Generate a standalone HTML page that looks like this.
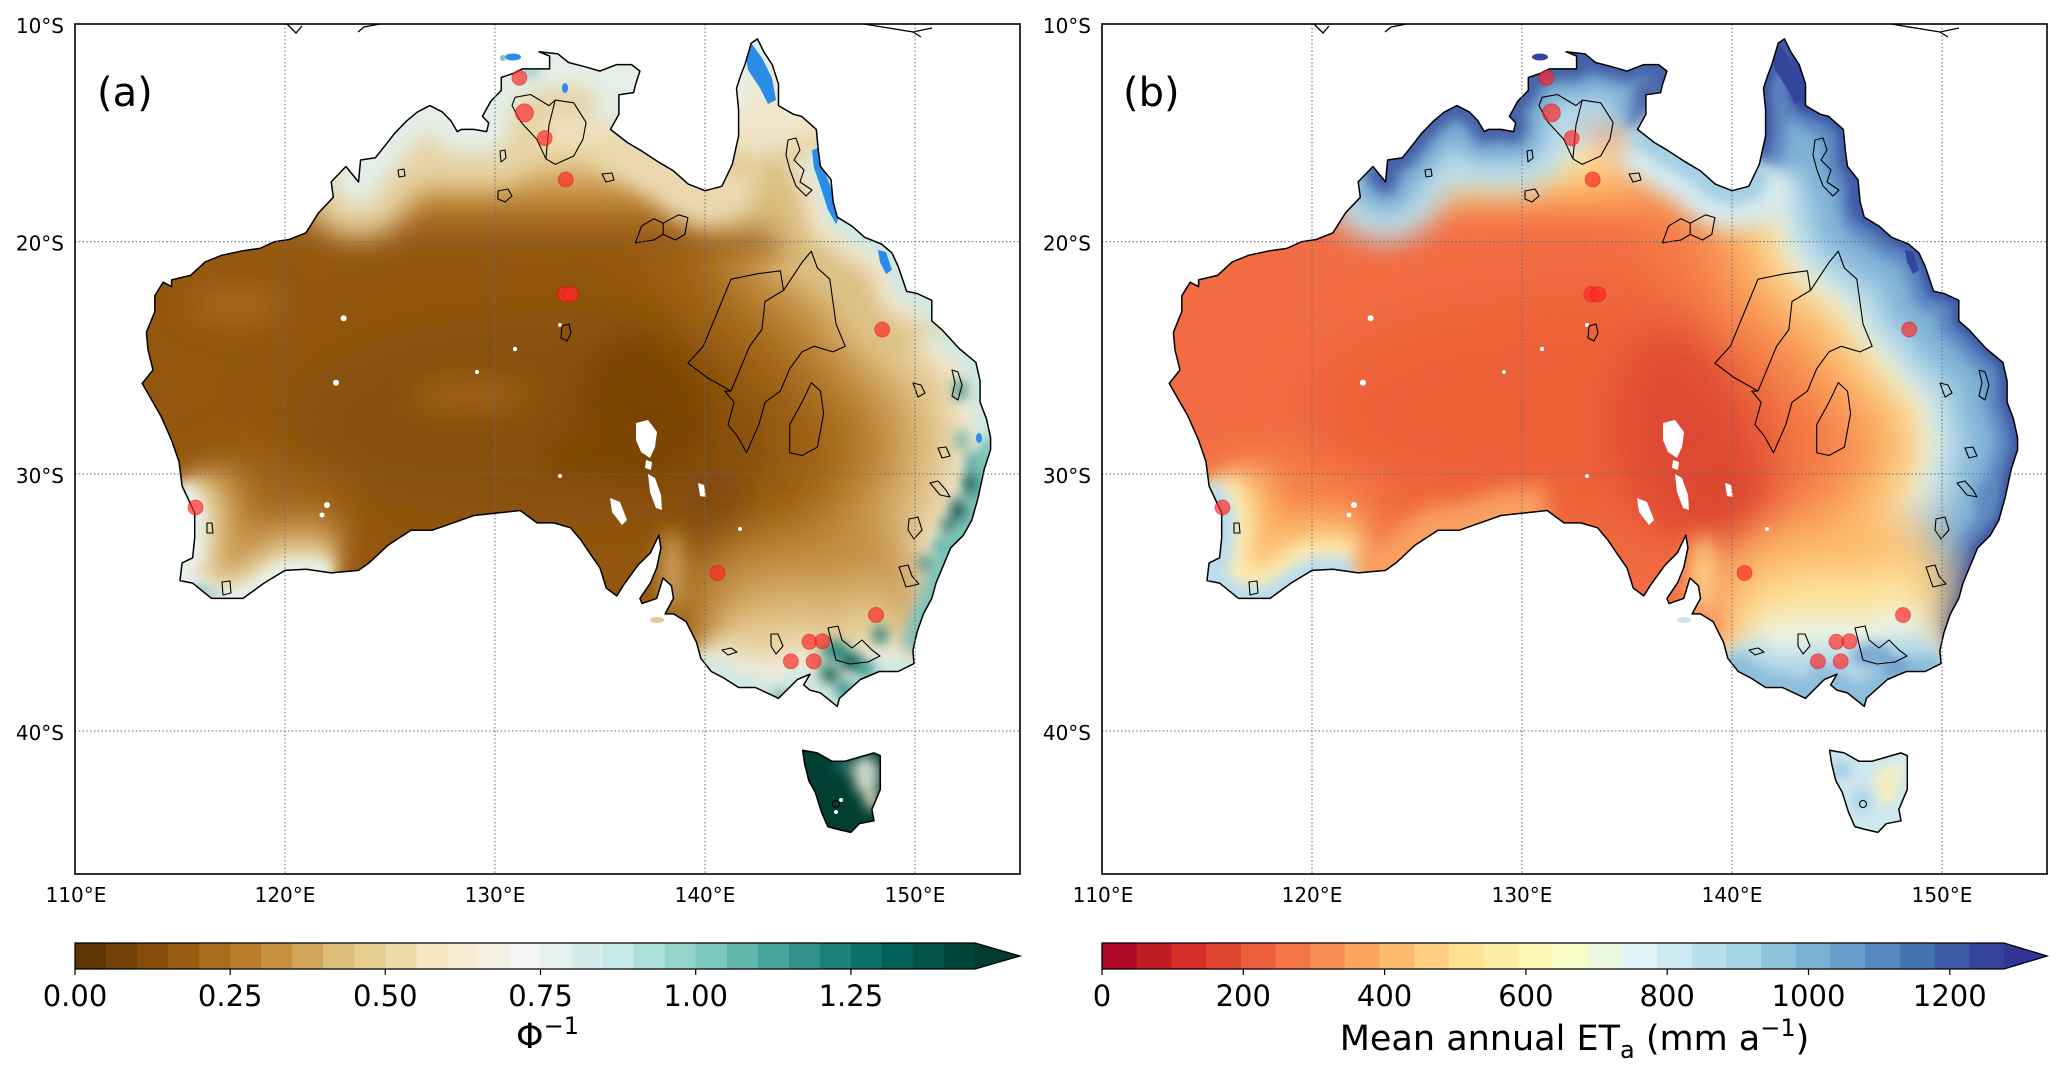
<!DOCTYPE html>
<html><head><meta charset="utf-8"><style>html,body{margin:0;padding:0;background:#fff}svg{display:block}</style></head>
<body>
<svg xmlns="http://www.w3.org/2000/svg" xmlns:xlink="http://www.w3.org/1999/xlink" width="2067" height="1079" viewBox="0 0 2067 1079" font-family="'DejaVu Sans','Liberation Sans',sans-serif">
<defs>
<path id="aus" d="M757.5,38.9 L763.8,51.8 772.2,64.6 778.5,84 778.5,105.6 793.2,114.2 801.6,116.4 816.3,129.4 818.4,151.2 820.5,166.5 831,179.7 833.1,201.7 837.3,217.2 852,226.1 864.6,237.3 881.4,244 891.9,252.9 898.2,266.4 906.6,291.3 917.1,293.5 931.8,300.3 931.8,320.9 942.3,330.1 959.1,348.5 975.9,362.4 980.1,381 980.1,402.2 986.4,418.7 990.6,437.8 990.6,449.7 984.3,469 978,498.2 971.7,520.4 963.3,535.3 950.7,547.8 942.3,567.9 936,583.1 931.8,598.4 923.4,613.9 917.1,632.1 912.9,650.3 914,663.6 898.2,671.5 879.3,671.5 860.4,679.5 839.4,698.3 837.3,706.4 820.5,692.9 810,690.2 803.7,684.9 810,674.2 797.4,679.5 778.5,698.3 755.4,687.5 738.6,687.5 723.9,678.1 711.3,671.5 700.8,658.3 696.6,642.5 686.1,621.6 673.5,613.9 665.1,613.9 673.5,598.4 671.4,585.7 663,578 656.7,598.4 642,603.6 639.9,598.4 650.4,583.1 656.7,567.9 660.9,547.8 658.8,535.3 650.4,552.8 637.8,565.4 623.1,585.7 616.8,595.9 606.3,588.2 600,567.9 589.5,552.8 581.1,540.3 570.6,527.8 553.8,522.9 537,522.9 520.2,510.5 474,515.5 453,522.9 432,530.3 411,530.3 387.9,545.3 369,562.9 358.5,570.4 331.2,572.9 306,569.2 285,570.4 264,583.1 243,598.4 226.2,598.4 211.5,598.4 192.6,583.1 180,580.6 182.1,562.9 192.6,557.8 194.7,537.8 194.7,513 182.1,486 179,461.8 171.6,440.2 161.1,416.4 142.2,383.4 153,370 148,350 146.4,332.3 154.8,311.7 154.8,295.8 163.2,282.2 171.6,286.7 171.6,279.9 190.5,275.4 205.2,261.9 222,255.2 243,250.7 259.8,248.4 274.5,241.7 289.2,239.5 306,232.8 318.6,212.8 333.3,197.3 331.2,181.9 345.9,166.5 358.5,181.9 360.6,160 375.3,157.8 385.8,144.7 394.2,133.8 406.8,120.8 417.3,112.1 429.9,105.6 442.5,112.1 450.9,120.8 457.2,131.6 461.4,129.4 474,129.4 486.6,131.6 488.7,122.9 482.4,116.4 490.8,101.2 501.3,90.4 501.3,77.5 513.9,73.2 522.3,68.9 537,68.9 549.6,68.9 549.6,56.1 539.1,51.8 558,53.9 568.5,62.5 585.3,66.8 600,71.1 616.8,64.6 631.5,64.6 639.9,71.1 635.7,84 633.6,92.6 618.9,94.8 618.9,114.2 610.5,129.4 627.3,142.5 642,151.2 658.8,162.2 673.5,170.9 688.2,184.1 705,190.7 721.8,186.3 732.3,164.4 738.6,135.9 738.6,109.9 736.5,88.3 740.7,75.4 744.9,64.6 751.2,43.2 Z"/>
<path id="tas" d="M802.6,750.2 L817.3,752.9 832,761.3 844.6,761.3 859.3,757.1 874,752.9 880.3,755.7 880.3,775.3 880.3,789.4 871.9,809.3 874,820.8 859.3,823.7 850.9,832.4 838.3,829.5 827.8,826.6 821.5,812.2 815.2,792.2 808.9,780.9 804.7,764.1 Z"/>
<path id="pE" d="M732.3,164.4 L738.6,135.9 738.6,109.9 736.5,88.3 740.7,75.4 744.9,64.6 751.2,43.2 757.5,38.9 763.8,51.8 772.2,64.6 778.5,84 778.5,105.6 793.2,114.2 801.6,116.4 816.3,129.4 818.4,151.2 820.5,166.5 831,179.7 833.1,201.7 837.3,217.2 852,226.1 864.6,237.3 881.4,244 891.9,252.9 898.2,266.4 906.6,291.3 917.1,293.5 931.8,300.3 931.8,320.9 942.3,330.1 959.1,348.5 975.9,362.4 980.1,381 980.1,402.2 986.4,418.7 990.6,437.8 990.6,449.7 984.3,469 978,498.2 971.7,520.4 963.3,535.3 950.7,547.8 942.3,567.9 936,583.1 931.8,598.4 923.4,613.9 917.1,632.1 912.9,650.3 914,663.6"/>
<path id="pE2" d="M818.4,151.2 L820.5,166.5 831,179.7 833.1,201.7 837.3,217.2 852,226.1 864.6,237.3 881.4,244 891.9,252.9 898.2,266.4 906.6,291.3 917.1,293.5 931.8,300.3 931.8,320.9"/>
<path id="pT" d="M990.6,437.8 L990.6,449.7 984.3,469 978,498.2 971.7,520.4 963.3,535.3 950.7,547.8 942.3,567.9 936,583.1 931.8,598.4 923.4,613.9 917.1,632.1 912.9,650.3"/>
<path id="pV" d="M914,663.6 L898.2,671.5 879.3,671.5 860.4,679.5 839.4,698.3 837.3,706.4 820.5,692.9 810,690.2 797.4,679.5 778.5,698.3 755.4,687.5 738.6,687.5 723.9,678.1 711.3,671.5 700.8,658.3"/>
<path id="pSW" d="M182.1,486 L194.7,513 194.7,537.8 192.6,557.8 182.1,562.9 180,580.6 192.6,583.1 211.5,598.4 226.2,598.4 243,598.4 264,583.1 285,570.4 306,569.2 331.2,572.9"/>
<path id="pS" d="M520.2,510.5 L474,515.5 453,522.9 432,530.3 411,530.3 387.9,545.3 369,562.9 358.5,570.4 331.2,572.9"/>
<path id="pN" d="M345.9,166.5 L358.5,181.9 360.6,160 375.3,157.8 385.8,144.7 394.2,133.8 406.8,120.8 417.3,112.1 429.9,105.6 442.5,112.1 450.9,120.8 457.2,131.6 461.4,129.4 474,129.4 486.6,131.6 488.7,122.9 482.4,116.4 490.8,101.2 501.3,90.4 501.3,77.5 513.9,73.2 522.3,68.9 537,68.9 549.6,68.9 549.6,56.1 539.1,51.8 558,53.9 568.5,62.5 585.3,66.8 600,71.1 616.8,64.6 631.5,64.6 639.9,71.1 635.7,84 633.6,92.6 618.9,94.8 618.9,114.2 610.5,129.4"/>
<path id="pG" d="M610.5,129.4 L627.3,142.5 642,151.2 658.8,162.2 673.5,170.9 688.2,184.1 705,190.7 721.8,186.3 732.3,164.4"/>
<clipPath id="land"><use href="#aus"/><use href="#tas"/></clipPath>
<filter id="b4" filterUnits="userSpaceOnUse" x="-300" y="-300" width="1700" height="1500"><feGaussianBlur stdDeviation="4"/></filter>
<filter id="b6" filterUnits="userSpaceOnUse" x="-300" y="-300" width="1700" height="1500"><feGaussianBlur stdDeviation="6"/></filter>
<filter id="b10" filterUnits="userSpaceOnUse" x="-300" y="-300" width="1700" height="1500"><feGaussianBlur stdDeviation="10"/></filter>
<filter id="b14" filterUnits="userSpaceOnUse" x="-300" y="-300" width="1700" height="1500"><feGaussianBlur stdDeviation="14"/></filter>
<filter id="b18" filterUnits="userSpaceOnUse" x="-300" y="-300" width="1700" height="1500"><feGaussianBlur stdDeviation="18"/></filter>
<filter id="b24" filterUnits="userSpaceOnUse" x="-300" y="-300" width="1700" height="1500"><feGaussianBlur stdDeviation="24"/></filter>
<filter id="b32" filterUnits="userSpaceOnUse" x="-300" y="-300" width="1700" height="1500"><feGaussianBlur stdDeviation="32"/></filter>
<linearGradient id="gNa" gradientUnits="userSpaceOnUse" x1="0" y1="24" x2="0" y2="268">
<stop offset="0" stop-color="#d6ede7"/><stop offset="0.27" stop-color="#e6f1ec"/><stop offset="0.385" stop-color="#f1ead2"/><stop offset="0.496" stop-color="#ecdcb0"/><stop offset="0.566" stop-color="#e2c88e"/><stop offset="0.639" stop-color="#d4a862"/><stop offset="0.713" stop-color="#c08a3e"/><stop offset="0.803" stop-color="#a86c24"/><stop offset="0.893" stop-color="#9a5c18" stop-opacity="0.8"/><stop offset="1" stop-color="#93570f" stop-opacity="0"/>
</linearGradient>
<linearGradient id="gNb" gradientUnits="userSpaceOnUse" x1="0" y1="24" x2="0" y2="260">
<stop offset="0" stop-color="#3a55a2"/><stop offset="0.15" stop-color="#4464ab"/><stop offset="0.25" stop-color="#5a86bf"/><stop offset="0.322" stop-color="#78aad2"/><stop offset="0.415" stop-color="#b1d8e8"/><stop offset="0.487" stop-color="#e2f2f2"/><stop offset="0.559" stop-color="#faf3b8"/><stop offset="0.631" stop-color="#fed88c"/><stop offset="0.703" stop-color="#fdb56a"/><stop offset="0.771" stop-color="#f99656"/><stop offset="0.869" stop-color="#f57a48" stop-opacity="0.6"/><stop offset="1" stop-color="#f26c43" stop-opacity="0"/>
</linearGradient>

<g id="overlay">
 <g fill="#fff">
  <path d="M636,423 L648,420 657,432 655,447 650,458 641,452 636,440 Z"/>
  <path d="M646,460 L652,462 651,470 645,468 Z"/>
  <path d="M648,474 L655,478 661,495 662,510 656,508 650,492 Z"/>
  <path d="M610,498 L620,502 627,520 622,525 612,512 Z"/>
  <path d="M698,483 L704,485 706,497 700,496 Z"/>
  <circle cx="343.6" cy="318.3" r="3"/><circle cx="336" cy="382.7" r="3"/><circle cx="515" cy="349" r="2.2"/>
  <circle cx="327" cy="505" r="3"/><circle cx="322" cy="515" r="2.5"/><circle cx="740" cy="529" r="2"/>
  <circle cx="560" cy="325" r="2"/><circle cx="477" cy="372" r="2"/><circle cx="560" cy="476" r="2"/>
 </g>
 <g fill="none" stroke="#000" stroke-width="1.1" stroke-linejoin="round">
  <path d="M731,279.2 L758.8,273.6 780.4,270.8 783.5,290.4 765,301.5 761.9,329.5 749.6,346.3 740.3,368.7 731,391.1 706.4,377.1 687.9,363.1 703.3,346.3 712.5,323.9 721.8,301.5 Z"/>
  <path d="M783.5,290.4 L802,262.4 811.3,251.2 817.4,268 829.8,279.2 832.9,301.5 836,323.9 845.2,346.3 832.9,351.9 814.3,346.3 802,351.9 789.7,368.7 780.4,391.1 765,402.3 758.8,424.7 746.5,452.7 737.2,435.9 728,424.7 734.1,402.3 724.9,391.1 731,391.1"/>
  <path d="M811.3,382.7 L820.5,391.1 823.6,413.5 817.4,447.1 802,455.5 789.7,452.7 789.7,424.7 802,402.3 Z"/>
  <path d="M515.1,97.3 L530.5,94.5 549,105.6 555.2,100.1 573.7,102.8 586.1,122.4 583,139.2 573.7,156 555.2,164.4 545.9,158.8 536.7,139.2 521.2,122.4 512,105.6 Z M555.2,100.1 L549,125 545.9,158.8"/>
  <path d="M635.4,242.8 L641.6,226 653.9,218.7 663.2,223.2 678.6,214.8 687.9,217.6 684.8,234.4 675.5,240 663.2,234.4 653.9,240 Z M663.2,223.2 L663.2,234.4"/>
  <path d="M562,326 L569,324 571,333 567,341 561,338 Z"/>
  <path d="M498,191 L508,189 512,196 505,202 498,199 Z"/>
  <path d="M500,151 L505,150 506,158 501,162 Z"/>
  <path d="M602,174 L612,173 614,180 606,182 Z"/>
  <path d="M398,170 L404,169 405,176 399,177 Z"/>
  <path d="M788,140 L796,138 800,150 794,160 804,170 800,182 812,190 806,196 796,186 790,170 786,155 Z"/>
  <path d="M913,383 L921,385 925,393 918,397 Z"/>
  <path d="M952,370 L958,372 962,385 958,400 952,396 955,383 Z"/>
  <path d="M938,448 L946,447 950,456 942,458 Z"/>
  <path d="M930,483 L938,481 946,490 950,497 940,495 Z"/>
  <path d="M909,519 L918,517 922,530 914,539 908,530 Z"/>
  <path d="M899,567 L908,565 912,576 919,584 906,587 Z"/>
  <path d="M828,628 L838,626 842,640 852,648 862,640 872,650 880,656 868,662 850,664 836,660 Z"/>
  <path d="M771,634 L778,634 783,646 776,654 771,646 Z"/>
  <path d="M722,650 L731,648 737,652 728,655 Z"/>
  <path d="M207,523 L212,523 213,533 207,533 Z"/>
  <path d="M222,582 L230,581 231,593 223,595 Z"/>
  <circle cx="836" cy="804" r="3.5"/>
 </g>
 <use href="#aus" fill="none" stroke="#000" stroke-width="1.5" stroke-linejoin="round"/>
 <use href="#tas" fill="none" stroke="#000" stroke-width="1.5" stroke-linejoin="round"/>
 <g fill="none" stroke="#000" stroke-width="1.3">
  <polyline points="287,24 296,33 302,26"/>
  <polyline points="358,32 364,27 380,24"/>
  <polyline points="864,24 913,32 932,28"/>
  <polyline points="913,32 921,37"/>
 </g>
 <g stroke="#666d78" stroke-width="1.1" stroke-dasharray="1.4,2.4" fill="none">
  <line x1="75" y1="241.7" x2="1020" y2="241.7"/>
  <line x1="75" y1="473.9" x2="1020" y2="473.9"/>
  <line x1="75" y1="730.9" x2="1020" y2="730.9"/>
  <line x1="285" y1="24" x2="285" y2="874"/>
  <line x1="495" y1="24" x2="495" y2="874"/>
  <line x1="705" y1="24" x2="705" y2="874"/>
  <line x1="915" y1="24" x2="915" y2="874"/>
 </g>
 <rect x="75" y="24" width="945" height="850" fill="none" stroke="#000" stroke-width="1.6"/>
 <g font-size="20" fill="#000" text-anchor="end">
  <text x="64" y="33">10°S</text>
  <text x="64" y="250.7">20°S</text>
  <text x="64" y="482.9">30°S</text>
  <text x="64" y="739.9">40°S</text>
 </g>
 <g font-size="20" fill="#000" text-anchor="middle">
  <text x="76" y="902">110°E</text>
  <text x="285" y="902">120°E</text>
  <text x="495" y="902">130°E</text>
  <text x="705" y="902">140°E</text>
  <text x="915" y="902">150°E</text>
 </g>
 <g fill="rgb(255,40,40)" fill-opacity="0.68" stroke="rgb(210,0,0)" stroke-opacity="0.4" stroke-width="1">
  <circle cx="519.4" cy="77.7" r="7.5"/>
  <circle cx="524.4" cy="112.9" r="9"/>
  <circle cx="544.7" cy="138.1" r="7.5"/>
  <circle cx="565.7" cy="179.5" r="7.5"/>
  <circle cx="564.4" cy="294.3" r="7.5"/>
  <circle cx="571.2" cy="294.3" r="7.5"/>
  <circle cx="882.2" cy="329.5" r="7.5"/>
  <circle cx="195.5" cy="507.5" r="7.5"/>
  <circle cx="717.5" cy="573" r="7.5"/>
  <circle cx="876" cy="615" r="7.5"/>
  <circle cx="809.4" cy="641.8" r="7.5"/>
  <circle cx="822.4" cy="641.3" r="7.5"/>
  <circle cx="790.9" cy="661.4" r="7.5"/>
  <circle cx="813.7" cy="661.4" r="7.5"/>
 </g>
</g>
</defs>

<!-- ================= PANEL A ================= -->
<g>
 <g clip-path="url(#land)">
  <rect x="75" y="24" width="945" height="850" fill="#93570f"/>
  <ellipse cx="560" cy="420" rx="270" ry="105" fill="#87500c" filter="url(#b32)"/>
  <ellipse cx="645" cy="405" rx="65" ry="75" fill="#7a4404" filter="url(#b18)"/>
  <ellipse cx="600" cy="455" rx="60" ry="22" fill="#7d4605" filter="url(#b14)"/>
  <ellipse cx="715" cy="505" rx="35" ry="40" fill="#80490a" filter="url(#b18)"/>
  <ellipse cx="235" cy="305" rx="45" ry="18" fill="#a8691f" filter="url(#b14)"/>
  <ellipse cx="470" cy="395" rx="60" ry="18" fill="#9d6015" filter="url(#b14)"/>
  <g fill="none" stroke-linejoin="round" stroke-linecap="butt">
   <use href="#pE" stroke="#a26619" stroke-width="360" filter="url(#b32)"/>
   <use href="#pE" stroke="#c28b3f" stroke-width="250" filter="url(#b24)"/>
   <use href="#pE" stroke="#d9b574" stroke-width="170" filter="url(#b18)"/>
   <use href="#pE" stroke="#e6cf9c" stroke-width="110" filter="url(#b14)"/>
   <use href="#pE" stroke="#f0e8d2" stroke-width="60" filter="url(#b10)"/>
   <use href="#pE" stroke="#cfe9e2" stroke-width="24" filter="url(#b6)"/>
   <use href="#pV" stroke="#c18b3f" stroke-width="300" filter="url(#b24)"/>
   <use href="#pV" stroke="#d9b574" stroke-width="200" filter="url(#b18)"/>
   <use href="#pV" stroke="#e8d3a2" stroke-width="120" filter="url(#b14)"/>
   <use href="#pV" stroke="#eeeadb" stroke-width="60" filter="url(#b10)"/>
   <use href="#pV" stroke="#cfe9e2" stroke-width="24" filter="url(#b6)"/>
   <use href="#pSW" stroke="#a86c22" stroke-width="170" filter="url(#b24)"/>
   <use href="#pSW" stroke="#cc9d55" stroke-width="100" filter="url(#b14)"/>
   <use href="#pSW" stroke="#e6d4a6" stroke-width="52" filter="url(#b10)"/>
   <use href="#pSW" stroke="#e8f0ea" stroke-width="22" filter="url(#b6)"/>
   <use href="#pT" stroke="#7cc4b9" stroke-width="22" filter="url(#b6)"/>
  </g>
  <ellipse cx="672" cy="570" rx="10" ry="40" fill="#d4ac68" filter="url(#b10)"/>
  <rect x="75" y="24" width="945" height="244" fill="url(#gNa)"/>
  <ellipse cx="770" cy="125" rx="28" ry="60" fill="#efe6cc" filter="url(#b14)"/>
  <ellipse cx="745" cy="205" rx="60" ry="25" fill="#dcbf80" filter="url(#b18)"/>
  <g fill="none" stroke-linejoin="round" stroke-linecap="butt">
   <use href="#pE2" stroke="#dcbf82" stroke-width="130" filter="url(#b14)"/>
   <use href="#pE2" stroke="#efe6cc" stroke-width="60" filter="url(#b10)"/>
   <use href="#pE2" stroke="#cfe9e2" stroke-width="24" filter="url(#b6)"/>
   <use href="#pN" stroke="#e6d3a4" stroke-width="110" filter="url(#b14)"/>
   <use href="#pN" stroke="#e4efe8" stroke-width="44" filter="url(#b10)"/>
   <use href="#pG" stroke="#ead9b0" stroke-width="70" filter="url(#b10)"/>
  </g>
  <g filter="url(#b6)">
   <ellipse cx="835" cy="650" rx="14" ry="10" fill="#2d8c83"/>
   <ellipse cx="852" cy="662" rx="12" ry="9" fill="#0e5f55"/>
   <ellipse cx="866" cy="670" rx="10" ry="8" fill="#3a9a90"/>
   <ellipse cx="825" cy="668" rx="8" ry="6" fill="#5fb3a8"/>
   <ellipse cx="830" cy="675" rx="10" ry="8" fill="#0e5f55"/>
   <ellipse cx="845" cy="690" rx="10" ry="8" fill="#2a8a80"/>
   <ellipse cx="880" cy="635" rx="7" ry="9" fill="#1f7b71"/>
   <ellipse cx="780" cy="697" rx="7" ry="4" fill="#1f7b71"/>
   <ellipse cx="970" cy="484" rx="7" ry="12" fill="#0b5c52"/>
   <ellipse cx="958" cy="510" rx="8" ry="12" fill="#0b5c52"/>
   <ellipse cx="948" cy="526" rx="7" ry="8" fill="#1a7268"/>
   <ellipse cx="972" cy="462" rx="6" ry="10" fill="#3d9c92"/>
   <ellipse cx="962" cy="440" rx="6" ry="10" fill="#5fb3a8"/>
   <ellipse cx="960" cy="390" rx="6" ry="10" fill="#208278"/>
   <ellipse cx="925" cy="563" rx="6" ry="8" fill="#2a8a80"/>
   <ellipse cx="940" cy="545" rx="6" ry="8" fill="#4aa79c"/>
   <ellipse cx="200" cy="592" rx="8" ry="5" fill="#4aa79c"/>
   <ellipse cx="215" cy="596" rx="6" ry="3" fill="#4aa79c"/>
   <ellipse cx="530" cy="70" rx="10" ry="6" fill="#7cc6bb"/>
  </g>
  <rect x="790" y="738" width="100" height="105" fill="#023f33"/>
  <g filter="url(#b6)">
   <ellipse cx="866" cy="775" rx="13" ry="20" fill="#c9d6c6"/>
   <ellipse cx="872" cy="800" rx="7" ry="10" fill="#e6dcc0"/>
   <ellipse cx="845" cy="766" rx="10" ry="6" fill="#1d7a6e"/>
  </g>
  <circle cx="841" cy="800" r="2" fill="#fff"/><circle cx="836" cy="812" r="2" fill="#fff"/>
  <g fill="#2a8ce6">
   <polygon points="744,48 752,44 762,58 772,78 776,100 768,104 760,88 748,70"/>
   <polygon points="812,150 818,148 824,170 832,190 840,215 836,224 828,210 820,185 814,168"/>
   <polygon points="878,250 886,252 892,270 886,274 880,262"/>
   <ellipse cx="979" cy="438" rx="3" ry="5"/>
   <ellipse cx="565" cy="88" rx="3" ry="5"/>
  </g>
 </g>
 <ellipse cx="513" cy="57" rx="8" ry="3.5" fill="#2a8ce6"/>
 <ellipse cx="503" cy="58" rx="3" ry="3" fill="#7cc6bb"/>
 <ellipse cx="657" cy="620" rx="7" ry="3" fill="#e2c98e"/>
 <use href="#overlay"/>
 <text x="97" y="106" font-size="40">(a)</text>
</g>

<!-- ================= PANEL B ================= -->
<g transform="translate(1027,0)">
 <g clip-path="url(#land)">
  <rect x="75" y="24" width="945" height="850" fill="#f26c43"/>
  <ellipse cx="560" cy="410" rx="280" ry="110" fill="#ec6039" filter="url(#b32)"/>
  <ellipse cx="660" cy="430" rx="70" ry="110" fill="#de4830" filter="url(#b24)"/>
  <ellipse cx="710" cy="505" rx="40" ry="45" fill="#dc452f" filter="url(#b18)"/>
  <rect x="75" y="24" width="945" height="240" fill="url(#gNb)"/>
  <g fill="none" stroke-linejoin="round" stroke-linecap="butt">
   <use href="#pE" stroke="#f7894e" stroke-width="380" filter="url(#b32)"/>
   <use href="#pE" stroke="#fcc272" stroke-width="270" filter="url(#b24)"/>
   <use href="#pE" stroke="#f4f2cc" stroke-width="190" filter="url(#b18)"/>
   <use href="#pE" stroke="#cde8f1" stroke-width="155" filter="url(#b14)"/>
   <use href="#pE" stroke="#9cc8e0" stroke-width="125" filter="url(#b14)"/>
   <use href="#pE" stroke="#7eb0d6" stroke-width="85" filter="url(#b10)"/>
   <use href="#pE" stroke="#5a84bf" stroke-width="42" filter="url(#b6)"/>
   <use href="#pE" stroke="#3f5aa5" stroke-width="14" filter="url(#b4)"/>
   <use href="#pV" stroke="#fcb96a" stroke-width="320" filter="url(#b24)"/>
   <use href="#pV" stroke="#fde39c" stroke-width="220" filter="url(#b18)"/>
   <use href="#pV" stroke="#e8f3e6" stroke-width="130" filter="url(#b14)"/>
   <use href="#pV" stroke="#b3d8e8" stroke-width="70" filter="url(#b10)"/>
   <use href="#pV" stroke="#8dbddb" stroke-width="30" filter="url(#b6)"/>
   <use href="#pSW" stroke="#f7894e" stroke-width="180" filter="url(#b24)"/>
   <use href="#pSW" stroke="#fcbd70" stroke-width="110" filter="url(#b14)"/>
   <use href="#pSW" stroke="#fbeeb6" stroke-width="60" filter="url(#b10)"/>
   <use href="#pSW" stroke="#bcdded" stroke-width="26" filter="url(#b6)"/>
   <use href="#pS" stroke="#f9a060" stroke-width="50" filter="url(#b10)"/>
   <use href="#pN" stroke="#b7dcea" stroke-width="120" filter="url(#b14)"/>
   <use href="#pN" stroke="#7aaad3" stroke-width="60" filter="url(#b10)"/>
   <use href="#pN" stroke="#4462a8" stroke-width="24" filter="url(#b6)"/>
   <use href="#pG" stroke="#d5ebf0" stroke-width="80" filter="url(#b10)"/>
   <use href="#pG" stroke="#a5cfe4" stroke-width="30" filter="url(#b6)"/>
  </g>
  <ellipse cx="676" cy="575" rx="12" ry="40" fill="#fcd58a" filter="url(#b10)"/>
  <g filter="url(#b6)">
   <ellipse cx="845" cy="655" rx="22" ry="12" fill="#7aa9d2"/>
   <ellipse cx="870" cy="668" rx="12" ry="8" fill="#6b9cca"/>
   <ellipse cx="960" cy="500" rx="10" ry="20" fill="#5d88c0"/>
   <ellipse cx="775" cy="75" rx="14" ry="35" fill="#35449a"/>
   <ellipse cx="830" cy="190" rx="8" ry="30" fill="#3f5aa5"/>
  </g>
  <rect x="790" y="738" width="100" height="105" fill="#cfe7ef"/>
  <g filter="url(#b6)">
   <ellipse cx="860" cy="785" rx="12" ry="20" fill="#f6efbd"/>
   <ellipse cx="835" cy="800" rx="10" ry="12" fill="#a9d3e6"/>
   <ellipse cx="815" cy="770" rx="8" ry="8" fill="#8fc2dd"/>
   <ellipse cx="872" cy="768" rx="8" ry="8" fill="#eaf2d8"/>
  </g>
  <g fill="#34469c">
   <polygon points="744,48 752,44 762,58 772,78 776,100 768,104 760,88 748,70"/>
   <polygon points="878,250 886,252 892,270 886,274 880,262"/>
  </g>
 </g>
 <ellipse cx="513" cy="57" rx="8" ry="3.5" fill="#34449b"/>
 <ellipse cx="657" cy="620" rx="7" ry="3" fill="#c9e4ef"/>
 <use href="#overlay"/>
 <text x="96" y="106" font-size="40">(b)</text>
</g>

<!-- ================= COLORBAR A ================= -->
<g>
 <g>
  <rect x="75" y="943" width="31.5" height="26" fill="#5e3606"/>
  <rect x="106.03" y="943" width="31.5" height="26" fill="#714108"/>
  <rect x="137.07" y="943" width="31.5" height="26" fill="#844c09"/>
  <rect x="168.1" y="943" width="31.5" height="26" fill="#975b11"/>
  <rect x="199.14" y="943" width="31.5" height="26" fill="#a86c1d"/>
  <rect x="230.17" y="943" width="31.5" height="26" fill="#ba7c29"/>
  <rect x="261.2" y="943" width="31.5" height="26" fill="#c79140"/>
  <rect x="292.24" y="943" width="31.5" height="26" fill="#d2a75c"/>
  <rect x="323.28" y="943" width="31.5" height="26" fill="#ddbe78"/>
  <rect x="354.31" y="943" width="31.5" height="26" fill="#e5cd90"/>
  <rect x="385.34" y="943" width="31.5" height="26" fill="#edd9a8"/>
  <rect x="416.38" y="943" width="31.5" height="26" fill="#f5e7c1"/>
  <rect x="447.41" y="943" width="31.5" height="26" fill="#f6ecd2"/>
  <rect x="478.45" y="943" width="31.5" height="26" fill="#f5f0e4"/>
  <rect x="509.48" y="943" width="31.5" height="26" fill="#f5f5f5"/>
  <rect x="540.52" y="943" width="31.5" height="26" fill="#e5f1ef"/>
  <rect x="571.55" y="943" width="31.5" height="26" fill="#d5edea"/>
  <rect x="602.59" y="943" width="31.5" height="26" fill="#c5e9e4"/>
  <rect x="633.62" y="943" width="31.5" height="26" fill="#acdfd7"/>
  <rect x="664.66" y="943" width="31.5" height="26" fill="#94d5cb"/>
  <rect x="695.69" y="943" width="31.5" height="26" fill="#7bc9be"/>
  <rect x="726.72" y="943" width="31.5" height="26" fill="#61b7ac"/>
  <rect x="757.76" y="943" width="31.5" height="26" fill="#47a49b"/>
  <rect x="788.79" y="943" width="31.5" height="26" fill="#30928a"/>
  <rect x="819.83" y="943" width="31.5" height="26" fill="#1e8179"/>
  <rect x="850.86" y="943" width="31.5" height="26" fill="#0c7068"/>
  <rect x="881.9" y="943" width="31.5" height="26" fill="#016058"/>
  <rect x="912.93" y="943" width="31.5" height="26" fill="#015248"/>
  <rect x="943.97" y="943" width="31.03" height="26" fill="#004338"/>
  <polygon points="975,943 1020,956 975,969" fill="#003c30"/>
 </g>
 <path d="M75,943 L975,943 1020,956 975,969 75,969 Z" fill="none" stroke="#000" stroke-width="1.3"/>
 <g stroke="#000" stroke-width="1.2">
  <line x1="75" y1="969" x2="75" y2="975"/><line x1="230.2" y1="969" x2="230.2" y2="975"/><line x1="385.3" y1="969" x2="385.3" y2="975"/><line x1="540.5" y1="969" x2="540.5" y2="975"/><line x1="695.7" y1="969" x2="695.7" y2="975"/><line x1="850.9" y1="969" x2="850.9" y2="975"/>
 </g>
 <g font-size="29" text-anchor="middle" fill="#000">
  <text x="75" y="1006">0.00</text><text x="230.2" y="1006">0.25</text><text x="385.3" y="1006">0.50</text><text x="540.5" y="1006">0.75</text><text x="695.7" y="1006">1.00</text><text x="850.9" y="1006">1.25</text>
 </g>
 <text x="547.5" y="1048" font-size="35" text-anchor="middle">Φ<tspan font-size="24" dy="-14">−1</tspan></text>
</g>

<!-- ================= COLORBAR B ================= -->
<g>
 <g>
  <rect x="1102" y="943" width="35.2" height="26" fill="#af0926"/>
  <rect x="1136.69" y="943" width="35.2" height="26" fill="#c21c27"/>
  <rect x="1171.38" y="943" width="35.2" height="26" fill="#d52e27"/>
  <rect x="1206.08" y="943" width="35.2" height="26" fill="#e14531"/>
  <rect x="1240.77" y="943" width="35.2" height="26" fill="#ec5d3c"/>
  <rect x="1275.46" y="943" width="35.2" height="26" fill="#f57546"/>
  <rect x="1310.15" y="943" width="35.2" height="26" fill="#f98e52"/>
  <rect x="1344.85" y="943" width="35.2" height="26" fill="#fca65e"/>
  <rect x="1379.54" y="943" width="35.2" height="26" fill="#fdbb6e"/>
  <rect x="1414.23" y="943" width="35.2" height="26" fill="#fecf80"/>
  <rect x="1448.92" y="943" width="35.2" height="26" fill="#fee192"/>
  <rect x="1483.62" y="943" width="35.2" height="26" fill="#feeda4"/>
  <rect x="1518.31" y="943" width="35.2" height="26" fill="#fff9b6"/>
  <rect x="1553" y="943" width="35.2" height="26" fill="#f9fdca"/>
  <rect x="1587.69" y="943" width="35.2" height="26" fill="#edf8e0"/>
  <rect x="1622.38" y="943" width="35.2" height="26" fill="#e1f4f6"/>
  <rect x="1657.08" y="943" width="35.2" height="26" fill="#ceeaf3"/>
  <rect x="1691.77" y="943" width="35.2" height="26" fill="#b9e0ed"/>
  <rect x="1726.46" y="943" width="35.2" height="26" fill="#a5d4e6"/>
  <rect x="1761.15" y="943" width="35.2" height="26" fill="#8fc3dd"/>
  <rect x="1795.85" y="943" width="35.2" height="26" fill="#7ab2d4"/>
  <rect x="1830.54" y="943" width="35.2" height="26" fill="#679ec9"/>
  <rect x="1865.23" y="943" width="35.2" height="26" fill="#5588be"/>
  <rect x="1899.92" y="943" width="35.2" height="26" fill="#4473b3"/>
  <rect x="1934.62" y="943" width="35.2" height="26" fill="#3d5aa7"/>
  <rect x="1969.31" y="943" width="34.69" height="26" fill="#35429b"/>
  <polygon points="2004,943 2047,956 2004,969" fill="#313695"/>
 </g>
 <path d="M1102,943 L2004,943 2047,956 2004,969 1102,969 Z" fill="none" stroke="#000" stroke-width="1.3"/>
 <g stroke="#000" stroke-width="1.2">
  <line x1="1102" y1="969" x2="1102" y2="975"/><line x1="1243.3" y1="969" x2="1243.3" y2="975"/><line x1="1384.6" y1="969" x2="1384.6" y2="975"/><line x1="1525.9" y1="969" x2="1525.9" y2="975"/><line x1="1667.2" y1="969" x2="1667.2" y2="975"/><line x1="1808.5" y1="969" x2="1808.5" y2="975"/><line x1="1949.8" y1="969" x2="1949.8" y2="975"/>
 </g>
 <g font-size="29" text-anchor="middle" fill="#000">
  <text x="1102" y="1006">0</text><text x="1243.3" y="1006">200</text><text x="1384.6" y="1006">400</text><text x="1525.9" y="1006">600</text><text x="1667.2" y="1006">800</text><text x="1808.5" y="1006">1000</text><text x="1949.8" y="1006">1200</text>
 </g>
 <text x="1574.5" y="1050" font-size="35" text-anchor="middle">Mean annual ET<tspan font-size="24" dy="8">a</tspan><tspan font-size="35" dy="-8"> (mm a</tspan><tspan font-size="24" dy="-14">−1</tspan><tspan font-size="35" dy="14">)</tspan></text>
</g>
</svg>
</body></html>
